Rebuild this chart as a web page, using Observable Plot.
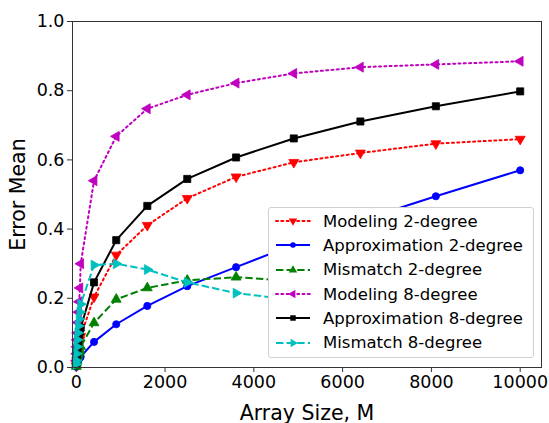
<!DOCTYPE html>
<html>
<head>
<meta charset="utf-8">
<script src="https://cdn.jsdelivr.net/npm/d3@7"></script>
<script src="https://cdn.jsdelivr.net/npm/@observablehq/plot@0.6"></script>
<style>
  html, body { margin: 0; padding: 0; background: #fff; }
  #wrap { position: relative; width: 549px; height: 423px; font-family: "DejaVu Sans", sans-serif; }
  #legend { position: absolute; left: 268px; top: 207px; width: 266px; height: 151px;
    border: 1px solid #d0d0d0; border-radius: 3px; background: #fff;
    box-sizing: border-box; padding-top: 1px; }
  .row { height: 24.3px; display: flex; align-items: center; font-size: 16.5px; color: #000; }
  .row svg { margin-left: 6px; margin-right: 12px; }
</style>
</head>
<body>
<div id="wrap"></div>
<script>
const arraySizes = [1,4,9,16,25,36,49,64,81,100,400,900,1600,2500,3600,4900,6400,8100,10000];
const modeling2   = [0.005,0.01,0.02,0.03,0.04,0.05,0.06,0.07,0.08,0.09,0.204,0.325,0.411,0.489,0.551,0.593,0.620,0.647,0.660];
const approx2     = [0.002,0.004,0.007,0.01,0.013,0.017,0.021,0.025,0.028,0.031,0.074,0.125,0.178,0.235,0.290,0.355,0.425,0.495,0.570];
const mismatch2   = [0.003,0.008,0.015,0.02,0.03,0.035,0.04,0.045,0.05,0.06,0.129,0.197,0.230,0.252,0.261,0.250,0.240,0.232,0.222];
const modeling8   = [0.02,0.04,0.06,0.08,0.10,0.13,0.16,0.19,0.23,0.30,0.540,0.668,0.748,0.788,0.822,0.850,0.868,0.876,0.885];
const approx8     = [0.01,0.02,0.03,0.04,0.05,0.065,0.08,0.095,0.105,0.115,0.246,0.368,0.467,0.545,0.607,0.662,0.711,0.755,0.798];
const mismatch8   = [0.01,0.02,0.04,0.06,0.08,0.10,0.12,0.14,0.16,0.183,0.296,0.300,0.283,0.246,0.215,0.195,0.180,0.170,0.160];

const seriesNames = ["Modeling 2-degree","Approximation 2-degree","Mismatch 2-degree","Modeling 8-degree","Approximation 8-degree","Mismatch 8-degree"];
const seriesValues = [modeling2, approx2, mismatch2, modeling8, approx8, mismatch8];
const xTicks = [0,2000,4000,6000,8000,10000];
const yTicks = [0,0.2,0.4,0.6,0.8,1.0];

const styles = [
  {color:"#ff0000", dash:"2,3.3", symbol:"triangle", rotate:180, r:3.7},
  {color:"#0000ff", dash:null,    symbol:"circle",   rotate:0,   r:3.6},
  {color:"#008000", dash:"7.4,3.2", symbol:"triangle", rotate:0, r:3.7},
  {color:"#bf00bf", dash:"2,3.3", symbol:"triangle", rotate:-90, r:3.7},
  {color:"#000000", dash:null,    symbol:"square",   rotate:0,   r:4.0},
  {color:"#00bfbf", dash:"7.4,3.2", symbol:"triangle", rotate:90, r:3.7}
];

const marks = [];
seriesValues.forEach((vals, i) => {
  const s = styles[i];
  const data = arraySizes.map((x, j) => ({x, y: vals[j]}));
  marks.push(Plot.line(data, {x:"x", y:"y", stroke:s.color, strokeWidth:2, strokeDasharray:s.dash, strokeLinecap: s.dash && s.dash.startsWith("2,") ? "round" : "butt"}));
  marks.push(Plot.dot(data, {x:"x", y:"y", symbol:s.symbol, r:s.r, fill:s.color, stroke:s.color, strokeWidth:0.8, rotate:s.rotate}));
});

const chart = Plot.plot({
  width: 549, height: 423,
  marginLeft: 72, marginRight: 8, marginTop: 21, marginBottom: 56,
  style: {fontFamily: "DejaVu Sans, sans-serif", background: "#fff", color: "#000"},
  x: {domain: [-85, 10480], ticks: xTicks},
  y: {domain: [0, 1], ticks: yTicks},
  marks: [
    ...marks,
    Plot.frame({stroke: "#333", strokeWidth: 1}),
    Plot.axisX({ticks: xTicks, tickSize: 5, tickPadding: 3, fontSize: 17.5, stroke:"#333", tickFormat: d => String(d), label: "Array Size, M", labelAnchor: "center", labelArrow: "none", labelOffset: 52}),
    Plot.axisY({ticks: yTicks, tickSize: 5, tickPadding: 3, fontSize: 17.5, stroke:"#333", tickFormat: ".1f", label: "Error Mean", labelAnchor: "center", labelArrow: "none", labelOffset: 62})
  ]
});
const wrap = document.getElementById("wrap");
wrap.appendChild(chart);
d3.select(chart).selectAll("[aria-label='x-axis label'] text, [aria-label='y-axis label'] text").style("font-size", "20.5px");

// legend
const leg = document.createElement("div");
leg.id = "legend";
seriesNames.forEach((name, i) => {
  const s = styles[i];
  const row = document.createElement("div");
  row.className = "row";
  const sw = d3.create("svg").attr("width", 36).attr("height", 14);
  sw.append("line").attr("x1", 1).attr("x2", 35).attr("y1", 7).attr("y2", 7)
    .attr("stroke", s.color).attr("stroke-width", 2).attr("stroke-dasharray", s.dash)
    .attr("stroke-linecap", s.dash && s.dash.startsWith("2,") ? "round" : "butt");
  const sym = s.symbol === "circle" ? d3.symbolCircle : s.symbol === "square" ? d3.symbolSquare : d3.symbolTriangle;
  const size = s.symbol === "circle" ? Math.PI*2.8*2.8 : s.symbol === "square" ? 30 : 30;
  sw.append("path").attr("d", d3.symbol(sym, size)()).attr("fill", s.color)
    .attr("transform", `translate(18,7) rotate(${s.rotate})`);
  row.appendChild(sw.node());
  const t = document.createElement("span");
  t.textContent = name;
  row.appendChild(t);
  leg.appendChild(row);
});
wrap.appendChild(leg);
</script>
</body>
</html>
